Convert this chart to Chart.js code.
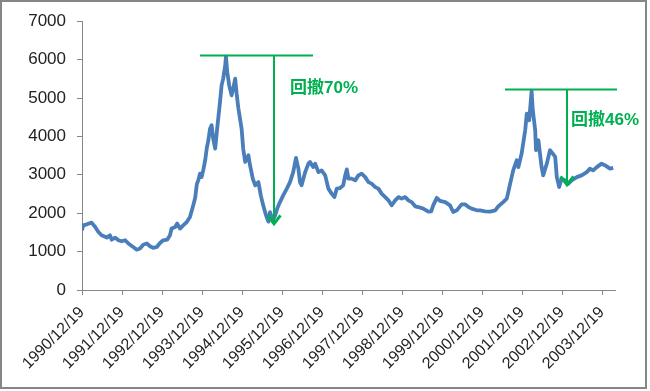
<!DOCTYPE html>
<html>
<head>
<meta charset="utf-8">
<script src="https://cdn.jsdelivr.net/npm/chart.js@4/dist/chart.umd.min.js"></script>
<style>
  html, body { margin: 0; padding: 0; background: #ffffff; }
  #wrap { position: relative; width: 650px; height: 391px; }
  #frame { position: absolute; left: 0; top: 0; width: 647px; height: 389px; box-sizing: border-box; border: 2px solid #868686; pointer-events: none; }
  canvas { display: block; }
</style>
</head>
<body>
<div id="wrap">
  <canvas id="c" width="650" height="391"></canvas>
  <div id="frame"></div>
</div>
<script>
// Years elapsed since 1990/12/19
const years = [0, 0.03, 0.12, 0.24, 0.33, 0.41, 0.49, 0.62, 0.70, 0.74, 0.83, 0.91, 0.99, 1.08, 1.16, 1.28, 1.37, 1.45, 1.53, 1.62,
  1.70, 1.78, 1.87, 1.95, 2.03, 2.13, 2.20, 2.24, 2.33, 2.38, 2.45, 2.53, 2.62, 2.70, 2.78, 2.83, 2.87, 2.91, 2.95, 2.99,
  3.03, 3.08, 3.12, 3.16, 3.20, 3.24, 3.28, 3.33, 3.37, 3.45, 3.49, 3.53, 3.58, 3.60, 3.63, 3.68, 3.74, 3.78, 3.83, 3.87,
  3.91, 3.95, 3.99, 4.03, 4.08, 4.16, 4.20, 4.27, 4.33, 4.41, 4.47, 4.53, 4.60, 4.66, 4.70, 4.77, 4.83, 4.88, 4.95, 5.03,
  5.12, 5.20, 5.28, 5.35, 5.41, 5.45, 5.49, 5.58, 5.66, 5.70, 5.78, 5.83, 5.91, 5.99, 6.08, 6.16, 6.24, 6.31, 6.37, 6.45,
  6.53, 6.58, 6.62, 6.66, 6.74, 6.83, 6.91, 6.99, 7.08, 7.16, 7.24, 7.33, 7.41, 7.49, 7.58, 7.66, 7.74, 7.83, 7.91, 7.99,
  8.08, 8.16, 8.24, 8.33, 8.41, 8.53, 8.66, 8.73, 8.78, 8.87, 8.95, 9.08, 9.20, 9.28, 9.37, 9.49, 9.58, 9.66, 9.74, 9.87,
  9.95, 10.08, 10.20, 10.33, 10.41, 10.53, 10.62, 10.70, 10.78, 10.87, 10.91, 10.99, 11.08, 11.12, 11.18, 11.24, 11.27, 11.33, 11.35, 11.41,
  11.45, 11.49, 11.53, 11.62, 11.70, 11.77, 11.83, 11.87, 11.93, 11.99, 12.08, 12.16, 12.24, 12.37, 12.49, 12.62, 12.70, 12.78, 12.87, 12.99,
  13.07, 13.20, 13.28];

const indexValues = [1555, 1685, 1710, 1755, 1640, 1510, 1425, 1365, 1425, 1310, 1365, 1295, 1270, 1295, 1210, 1120, 1050, 1080, 1180, 1210,
  1140, 1095, 1120, 1225, 1295, 1310, 1425, 1600, 1640, 1730, 1600, 1685, 1770, 1900, 2200, 2400, 2750, 2870, 3030, 2940,
  3115, 3380, 3700, 3900, 4200, 4290, 3940, 3680, 4115, 4895, 5330, 5505, 5850, 6080, 5680, 5330, 5070, 5245, 5505, 5070,
  4725, 4465, 4200, 3680, 3335, 3510, 3250, 2900, 2725, 2810, 2465, 2205, 1945, 1780, 2030, 1815, 1945, 2120, 2290, 2465,
  2640, 2810, 3070, 3440, 3160, 2810, 2725, 3070, 3290, 3335, 3200, 3290, 3070, 3115, 2985, 2640, 2510, 2420, 2640, 2655,
  2725, 2985, 3140, 2900, 2900, 2855, 2985, 3030, 2940, 2810, 2770, 2680, 2640, 2510, 2420, 2335, 2205, 2335, 2420, 2380,
  2420, 2335, 2290, 2180, 2160, 2120, 2040, 2050, 2205, 2400, 2320, 2290, 2205, 2030, 2075, 2230, 2230, 2160, 2120, 2075,
  2075, 2050, 2040, 2075, 2180, 2290, 2380, 2750, 3115, 3380, 3200, 3550, 4160, 4595, 4420, 5180, 4680, 4160, 3640, 3900,
  3550, 3200, 2985, 3290, 3640, 3550, 3465, 2940, 2680, 2900, 2855, 2770, 2855, 2940, 2985, 3070, 3160, 3115, 3200, 3290,
  3250, 3160, 3180];

const tickLabels = ['1990/12/19', '1991/12/19', '1992/12/19', '1993/12/19', '1994/12/19', '1995/12/19', '1996/12/19',
  '1997/12/19', '1998/12/19', '1999/12/19', '2000/12/19', '2001/12/19', '2002/12/19', '2003/12/19'];

// Drawdown annotations (data units)
const ddLabels = ['回撤70%', '回撤46%'];
const ddPeak = [6110, 5220];
const ddLineFrom = [2.95, 10.575];
const ddLineTo = [5.775, 13.375];
const ddArrowX = [4.8, 12.125];
const ddTrough = [1685, 2700];
const ddTextX = [5.2, 12.225];
const ddTextY = [5250, 4420];

const points = years.map((t, i) => ({ x: t, y: indexValues[i] }));

const green = '#00b050';
const drawdownPlugin = {
  id: 'drawdowns',
  afterDatasetsDraw(chart) {
    const { ctx, scales: { x, y } } = chart;
    ctx.save();
    ctx.strokeStyle = green;
    ctx.fillStyle = green;
    ctx.lineCap = 'butt';
    for (let i = 0; i < ddLabels.length; i++) {
      const yp = y.getPixelForValue(ddPeak[i]);
      const x1 = x.getPixelForValue(ddLineFrom[i]);
      const x2 = x.getPixelForValue(ddLineTo[i]);
      const xa = x.getPixelForValue(ddArrowX[i]);
      const yt = y.getPixelForValue(ddTrough[i]);
      ctx.lineWidth = 2;
      ctx.beginPath();
      ctx.moveTo(x1, yp); ctx.lineTo(x2, yp);
      ctx.moveTo(xa, yp); ctx.lineTo(xa, yt - 2);
      ctx.stroke();
      ctx.lineWidth = 3;
      ctx.lineJoin = 'miter';
      ctx.beginPath();
      ctx.moveTo(xa - 6.5, yt - 10);
      ctx.lineTo(xa, yt - 1.5);
      ctx.lineTo(xa + 6.5, yt - 10);
      ctx.stroke();
      ctx.font = "bold 17px 'Liberation Sans', 'Noto Sans CJK SC', sans-serif";
      ctx.textAlign = 'left';
      ctx.textBaseline = 'middle';
      ctx.fillText(ddLabels[i], x.getPixelForValue(ddTextX[i]), y.getPixelForValue(ddTextY[i]));
    }
    ctx.restore();
  }
};

const axisGrey = '#868686';
const yFont = { family: "'Liberation Sans', Arial, sans-serif", size: 17 };
const xFont = { family: "'Liberation Sans', Arial, sans-serif", size: 16 };

new Chart(document.getElementById('c'), {
  type: 'line',
  data: {
    datasets: [{
      data: points,
      borderColor: '#4a7ebb',
      borderWidth: 3.8,
      pointRadius: 0,
      tension: 0,
      fill: false,
      borderJoinStyle: 'round'
    }]
  },
  options: {
    responsive: false,
    animation: false,
    devicePixelRatio: 1,
    layout: { padding: { top: 21, right: 35, bottom: 0, left: 0 } },
    plugins: { legend: { display: false }, tooltip: { enabled: false } },
    scales: {
      x: {
        type: 'linear',
        min: 0,
        max: 13.325,
        afterBuildTicks(scale) { scale.ticks = tickLabels.map((_, i) => ({ value: i })); },
        afterFit(scale) { scale.height = 101; },
        grid: { drawOnChartArea: false, drawTicks: true, tickLength: 5, color: axisGrey },
        border: { display: true, color: axisGrey, width: 1 },
        ticks: {
          autoSkip: false,
          minRotation: 45,
          maxRotation: 45,
          padding: 8,
          color: '#222222',
          font: xFont,
          callback: (v) => tickLabels[Math.round(v)]
        }
      },
      y: {
        min: 0,
        max: 7000,
        afterFit(scale) { scale.width = 82; },
        grid: { drawOnChartArea: false, drawTicks: true, tickLength: 5, color: axisGrey },
        border: { display: true, color: axisGrey, width: 1 },
        ticks: { stepSize: 1000, padding: 11, color: '#222222', font: yFont, callback: (v) => String(v) }
      }
    }
  },
  plugins: [drawdownPlugin]
});
</script>
</body>
</html>
